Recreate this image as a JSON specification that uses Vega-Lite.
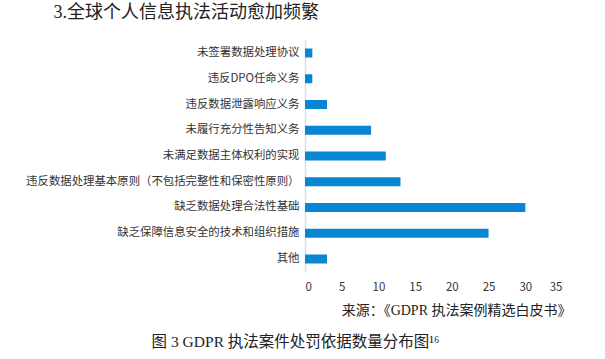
{
  "$schema": "https://vega.github.io/schema/vega-lite/v6.json",
  "background": "white",
  "padding": {"left": 25, "right": 5, "top": 4, "bottom": 5},
  "config": {"view": {"stroke": null}, "concat": {"spacing": 0}},
  "title": {
    "text": "图 3 GDPR 执法案件处罚依据数量分布图¹⁶",
    "orient": "bottom",
    "anchor": "start",
    "frame": "bounds",
    "dx": 126,
    "offset": 17,
    "font": "Liberation Serif, Noto Sans CJK SC",
    "fontSize": 15.5,
    "fontWeight": "normal",
    "color": "#222222"
  },
  "vconcat": [
    {
      "width": 257,
      "height": 232,
      "title": {
        "text": "3.全球个人信息执法活动愈加频繁",
        "anchor": "start",
        "frame": "bounds",
        "dx": 28,
        "offset": 18,
        "font": "Liberation Serif, Noto Sans CJK SC",
        "fontSize": 18,
        "fontWeight": "normal",
        "color": "#222222"
      },
      "data": {
        "values": [
          {"category": "未签署数据处理协议", "count": 1},
          {"category": "违反DPO任命义务", "count": 1},
          {"category": "违反数据泄露响应义务", "count": 3},
          {"category": "未履行充分性告知义务", "count": 9},
          {"category": "未满足数据主体权利的实现", "count": 11},
          {"category": "违反数据处理基本原则（不包括完整性和保密性原则）", "count": 13},
          {"category": "缺乏数据处理合法性基础", "count": 30},
          {"category": "缺乏保障信息安全的技术和组织措施", "count": 25},
          {"category": "其他", "count": 3}
        ]
      },
      "mark": {"type": "bar", "color": "#0786d3"},
      "encoding": {
        "y": {
          "field": "category",
          "type": "nominal",
          "sort": null,
          "scale": {"paddingInner": 0.65, "paddingOuter": 0.33},
          "axis": {
            "title": null,
            "ticks": false,
            "domain": true,
            "domainColor": "#d5e2ee",
            "domainWidth": 1.5,
            "labelFont": "Noto Sans CJK SC",
            "labelFontSize": 11.4,
            "labelColor": "#333333",
            "labelPadding": 6,
            "labelLimit": 400,
            "grid": false
          }
        },
        "x": {
          "field": "count",
          "type": "quantitative",
          "scale": {"domain": [0, 35], "nice": false},
          "axis": {
            "values": [0, 5, 10, 15, 20, 25, 30, 35],
            "title": "来源：《GDPR 执法案例精选白皮书》",
            "titleAnchor": "end",
            "titleAlign": "right",
            "titleX": 266,
            "titleFont": "Liberation Serif, Noto Sans CJK SC",
            "titleFontSize": 14,
            "titleFontWeight": "normal",
            "titleColor": "#222222",
            "titlePadding": 11,
            "domain": false,
            "ticks": false,
            "grid": false,
            "labelFont": "Noto Sans CJK SC",
            "labelFontSize": 11.5,
            "labelColor": "#333333",
            "labelPadding": 9
          }
        }
      }
    }
  ]
}
